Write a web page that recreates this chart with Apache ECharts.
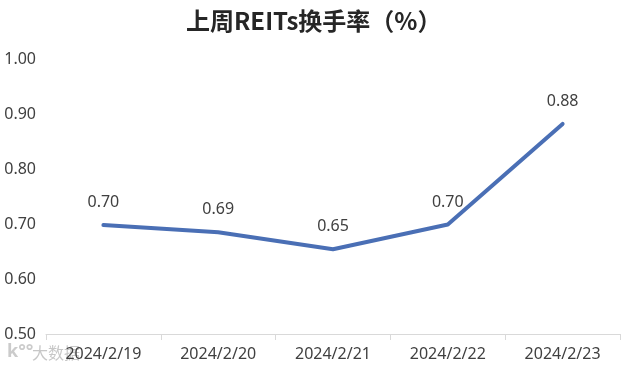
<!DOCTYPE html>
<html><head><meta charset="utf-8">
<style>html,body{margin:0;padding:0;background:#fff}#c{width:627px;height:368px}</style>
<script src="https://cdn.jsdelivr.net/npm/echarts@6/dist/echarts.min.js"></script>
</head><body><div id="c"></div>
<script>
const titleText = '上周REITs换手率（%）';
const categories = ['2024/2/19','2024/2/20','2024/2/21','2024/2/22','2024/2/23'];
const turnover = [0.698,0.685,0.654,0.699,0.882];
const watermarkLogo = 'k°°';
const watermark = '大数据';
const font = '"Noto Sans","Noto Sans CJK SC",sans-serif';
const chart = echarts.init(document.getElementById('c'),null,{renderer:'canvas'});
chart.setOption({
  animation:false,
  title:{text:titleText,left:186,top:9,padding:0,
    textStyle:{fontFamily:'"Noto Sans CJK SC",sans-serif',fontSize:24,fontWeight:'bold',color:'#262626'}},
  grid:{left:46,right:7,top:59,bottom:34},
  xAxis:{type:'category',data:categories,boundaryGap:true,
    axisLine:{lineStyle:{color:'#d9d9d9',width:1}},
    axisTick:{show:true,length:6,lineStyle:{color:'#d9d9d9'},alignWithLabel:false},
    axisLabel:{fontFamily:font,fontSize:16,color:'#404040',margin:12,interval:0}},
  yAxis:{type:'value',min:0.5,max:1,interval:0.1,
    axisLine:{show:false},axisTick:{show:false},splitLine:{show:false},
    axisLabel:{fontFamily:font,fontSize:16,color:'#404040',margin:10,
      formatter:v=>v.toFixed(2)}},
  series:[{type:'line',data:turnover,symbol:'circle',symbolSize:1,showSymbol:true,showAllSymbol:true,
    itemStyle:{color:'#4a6fb5',opacity:0},smooth:false,
    lineStyle:{color:'#4a6fb5',width:4,cap:'round',opacity:1},
    label:{show:true,position:'top',distance:14,fontFamily:font,fontSize:16,color:'#404040',opacity:1,
      formatter:p=>p.value.toFixed(2)}}],
  graphic:[
   {type:'text',left:7,top:343,z:-1,style:{text:watermarkLogo,fontFamily:font,fontSize:18,fontWeight:'bold',fill:'rgba(190,190,190,0.8)'}},
   {type:'text',left:32,top:345,z:-1,style:{text:watermark,fontFamily:'"Noto Sans CJK SC"',fontSize:16,fill:'rgba(180,180,180,0.75)'}}
  ]
});
</script></body></html>
